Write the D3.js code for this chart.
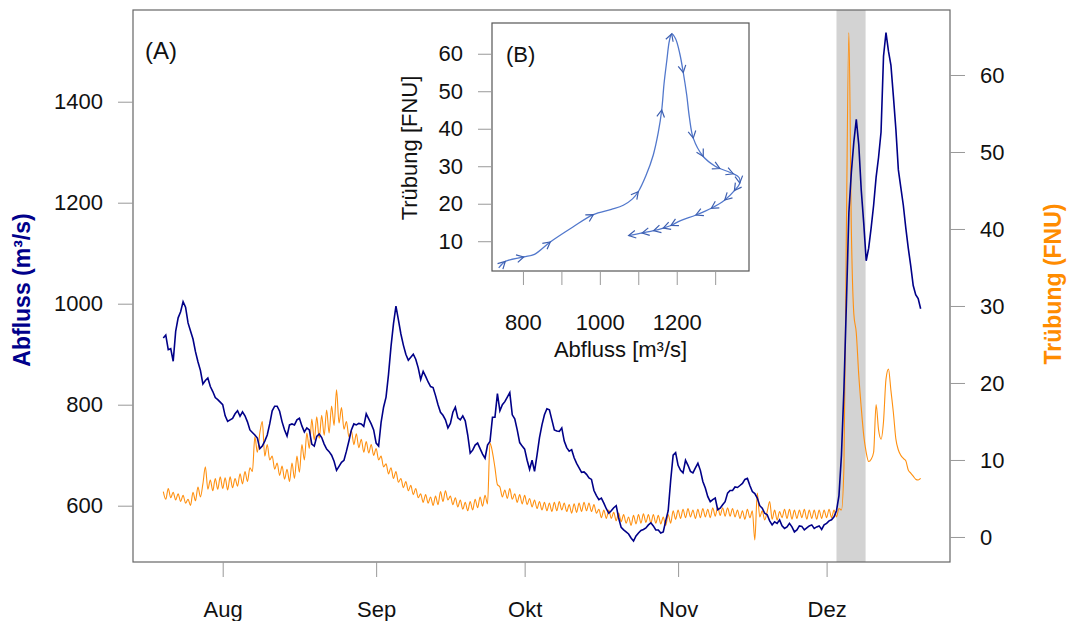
<!DOCTYPE html>
<html>
<head>
<meta charset="utf-8">
<script src="https://cdn.jsdelivr.net/npm/d3@7"></script>
<style>
  body { margin: 0; background: #fff; }
  text { font-family: "Liberation Sans", Arial, sans-serif; }
</style>
</head>
<body>
<svg id="chart" width="1068" height="621"></svg>
<script>
// Abfluss (m³/s), 12-Stunden-Werte ab 20. Juli
var startDate = new Date(2023, 6, 20);
var abfluss = [
  932, 938, 909, 911, 886, 945, 972, 984, 1004, 993, 962, 946, 930, 905, 885, 868, 841, 848, 853, 836,
  826, 814, 810, 805,
  800, 778, 767, 770, 773, 782, 788, 777, 786, 778, 766, 750, 745, 740, 734, 713, 718, 728, 740, 762,
  788, 797, 797, 787, 766, 750, 738, 760, 762, 760, 770, 773, 758, 746, 754, 750, 722, 718, 737, 742,
  735, 722, 712, 707, 700, 688, 670, 678, 686, 690, 708, 728, 750, 762, 760, 763, 762, 757, 782, 772,
  762, 750,
  724, 718, 765, 795, 815, 860, 915, 960, 995, 968, 940, 918, 900, 888, 894, 900, 890, 873, 850, 866,
  856, 845, 836, 834, 818, 800, 785, 779, 770, 754, 763, 785, 795, 774, 770, 778, 768, 740, 704, 710,
  720, 724, 713, 702, 694, 720, 727, 775, 775, 822, 788, 800, 806, 815, 824, 780, 772, 750, 725, 718,
  712, 690, 672, 690, 668, 700, 735, 760, 780, 792, 790, 770, 750, 748, 747, 754, 728, 715, 708, 711,
  695, 684, 675, 666, 667, 662, 655, 652, 630, 620, 612, 615, 605, 594, 585, 590, 596, 600, 575, 557,
  552, 548, 544, 536, 530, 540, 546, 551, 553, 556, 562, 566, 560, 552, 552, 546, 548, 570, 590, 650,
  700, 705,
  680, 670, 665, 690, 680, 668, 665, 675, 684, 670, 648, 635, 618, 608, 612, 615, 592, 595, 602, 608,
  625, 630, 630, 637, 636, 640, 644, 652, 654, 640, 628, 624, 615, 600, 595, 585, 582, 570, 562, 568,
  565, 572, 560, 555, 558, 565, 558, 548, 552, 560, 559, 552, 556, 560, 562, 555, 558, 560, 553, 562,
  565, 570, 572, 578, 590, 620, 700, 830, 1000, 1180, 1260, 1320, 1365, 1315, 1225, 1160, 1085, 1110,
  1150, 1195, 1250, 1290, 1340, 1490, 1537, 1500, 1472, 1410, 1345, 1265, 1230, 1195, 1150, 1110,
  1075, 1036, 1018, 1010, 990
];
// Trübung (FNU), 12-Stunden-Werte ab 20. Juli
var truebung = [
  5.9, 4.9, 6.3, 5.1, 5.8, 4.8, 5.6, 4.6, 5.4, 4.4, 4.9, 4.1, 5.8, 4.7, 6.5, 5.2, 6.9, 9.1, 6.2, 7.4,
  6.0, 7.6, 6.2, 7.8,
  6.3, 7.7, 6.1, 7.8, 6.4, 7.6, 6.6, 8.2, 6.9, 8.5, 7.2, 9.0, 8.5, 13.0, 11.0, 13.5, 15.0, 10.5,
  12.0, 10.0, 10.5, 8.8, 9.6, 8.0, 9.2, 7.5, 8.8, 7.2, 9.6, 7.6, 10.5, 8.4, 12.0, 10.0, 13.5, 11.5,
  15.3, 12.6, 15.6, 12.8, 15.8, 13.2, 16.5, 13.5, 17.0, 14.5, 19.1, 14.8, 16.8, 14.0, 15.0, 13.0,
  13.8, 12.0, 13.4, 11.6, 12.7, 11.0, 12.4, 10.9, 12.0, 10.6,
  11.5, 10.0, 10.5, 9.1, 9.5, 8.2, 9.0, 7.6, 8.5, 7.1, 7.6, 6.4, 7.2, 6.0, 6.7, 5.5, 6.3, 5.1,
  5.6, 4.5, 5.5, 4.4, 5.2, 4.1, 5.3, 4.2, 5.9, 4.6, 6.0, 4.8, 5.3, 4.2, 5.1, 3.9, 4.8, 3.6,
  4.5, 3.4, 4.6, 3.5, 4.9, 3.8, 5.2, 4.0, 5.4, 4.3, 12.2, 11.0, 9.0, 6.8, 6.5, 5.2, 6.1, 5.0,
  6.3, 4.9, 5.6, 4.5, 5.5, 4.3,
  5.4, 4.2, 5.0, 3.9, 4.8, 3.7, 4.6, 3.5, 4.5, 3.4, 4.4, 3.3, 4.5, 3.4, 4.6, 3.5, 4.4, 3.3,
  4.2, 3.1, 4.3, 3.2, 4.4, 3.3, 4.5, 3.4, 4.4, 3.3, 4.2, 3.1, 3.6, 2.5, 3.5, 2.4, 3.5, 2.4,
  3.2, 2.1, 3.1, 2.0, 2.9, 1.8, 2.6, 1.5, 2.8, 1.7, 2.9, 1.8, 3.0, 1.9, 2.9, 1.8, 2.9, 1.8,
  2.8, 1.7, 2.6, 1.5, 2.9, 1.8, 3.4, 2.3,
  3.5, 2.4, 3.6, 2.5, 3.7, 2.6, 3.5, 2.4, 3.6, 2.5, 3.7, 2.6, 3.6, 2.5, 3.8, 2.7, 3.9, 2.8,
  3.8, 2.7, 3.8, 2.7, 3.7, 2.6, 3.5, 2.4, 3.4, 2.3, 3.6, 2.5, 3.4, -0.4, 5.7, 2.6, 3.4, 2.2,
  3.3, 4.6, 2.3, 3.5, 2.2, 3.3, 2.5, 3.6, 2.4, 3.6, 2.3, 3.5, 2.4, 3.5, 2.5, 3.6, 2.3, 3.5,
  2.4, 3.5, 2.3, 3.5, 2.4, 3.5,
  2.5, 3.6, 2.5, 3.5, 2.6, 3.7, 3.5, 9.0, 40, 65.5, 40, 29, 26.5, 21, 16.8, 13.2, 11, 9.8,
  10.1, 11, 17.2, 13.9, 12.7, 15, 20.5, 21.8, 19, 16.1, 12.7, 11.3, 10.6, 10.2, 9.9, 8.7,
  8.3, 7.9, 7.5, 7.4, 7.6
];

var monthTicks = [new Date(2023, 7, 1), new Date(2023, 8, 1), new Date(2023, 9, 1),
                  new Date(2023, 10, 1), new Date(2023, 11, 1)];
var monthLabels = ["Aug", "Sep", "Okt", "Nov", "Dez"];
var abflussTicks = [600, 800, 1000, 1200, 1400];
var truebungTicks = [0, 10, 20, 30, 40, 50, 60];
var eventStart = new Date(2023, 11, 3, 0);
var eventEnd = new Date(2023, 11, 8, 21);

// Hysterese des Dezember-Ereignisses (Inset B)
var loopQ = [737, 754, 802, 830, 871, 930, 983, 1030, 1061, 1085, 1100, 1120, 1139, 1152, 1161,
             1167, 1174, 1181, 1187, 1197, 1208, 1217, 1226, 1233, 1243, 1269, 1300, 1312, 1347,
             1362, 1364, 1350, 1325, 1290, 1250, 1210, 1185, 1165, 1140, 1110, 1075];
var loopT = [2.9, 4.6, 5.8, 6.5, 9.8, 13.8, 17.1, 18.5, 19.6, 21.3, 23.2, 27.5, 33, 39, 45,
             52, 58, 63.5, 65.3, 64, 60, 55, 49, 43, 37.5, 32.6, 30, 29.4, 28,
             27, 25.5, 23.5, 21, 18.8, 17, 15.5, 14.2, 13.5, 12.8, 12.2, 11.5];
var loopArrows = [1, 2, 4, 6, 10, 14, 18, 21, 24, 25, 27, 28, 30, 31, 32, 33, 34, 36, 37, 38, 39, 40];
var insetQTicks = [800, 900, 1000, 1100, 1200, 1300];
var insetQLabels = [800, 1000, 1200];
var insetTTicks = [10, 20, 30, 40, 50, 60];

var svg = d3.select("#chart");
var plot = { left: 133, right: 950, top: 10, bottom: 562 };

var x = d3.scaleTime()
  .domain([new Date(2023, 6, 13, 21, 7), new Date(2023, 11, 25, 22, 20)])
  .range([plot.left, plot.right]);
var yQ = d3.scaleLinear().domain([488.5, 1581.6]).range([plot.bottom, plot.top]);
var yT = d3.scaleLinear().domain([-3.25, 68.44]).range([plot.bottom, plot.top]);

// grau hinterlegtes Ereignis
svg.append("rect")
  .attr("x", x(eventStart)).attr("y", plot.top)
  .attr("width", x(eventEnd) - x(eventStart)).attr("height", plot.bottom - plot.top)
  .style("fill", "#d3d3d3");

var qData = abfluss.map(function(v, i) { return { t: d3.timeHour.offset(startDate, i * 12), v: v }; });
var tData = truebung.map(function(v, i) { return { t: d3.timeHour.offset(startDate, i * 12), v: v }; });

svg.append("path")
  .datum(tData)
  .attr("d", d3.line().curve(d3.curveMonotoneX)
    .x(function(d) { return x(d.t); }).y(function(d) { return yT(d.v); }))
  .style("fill", "none").style("stroke", "#ff9010").style("stroke-width", 1.1);

svg.append("path")
  .datum(qData)
  .attr("d", d3.line().x(function(d) { return x(d.t); }).y(function(d) { return yQ(d.v); }))
  .style("fill", "none").style("stroke", "#000088").style("stroke-width", 1.6);

// Rahmen
svg.append("rect")
  .attr("x", plot.left).attr("y", plot.top)
  .attr("width", plot.right - plot.left).attr("height", plot.bottom - plot.top)
  .style("fill", "none").style("stroke", "#666").style("stroke-width", 1.2);

function styleAxis(g) {
  g.select(".domain").remove();
  g.selectAll(".tick line").style("stroke", "#999");
  g.selectAll(".tick text").style("font-size", "22px").style("fill", "#111")
    .style("font-family", "'Liberation Sans', Arial, sans-serif");
}

svg.append("g")
  .attr("transform", "translate(0," + plot.bottom + ")")
  .call(d3.axisBottom(x).tickValues(monthTicks).tickSize(15).tickPadding(24)
    .tickFormat(function(d, i) { return monthLabels[i]; }))
  .call(styleAxis);

svg.append("g")
  .attr("transform", "translate(" + plot.left + ",0)")
  .call(d3.axisLeft(yQ).tickValues(abflussTicks).tickSize(15).tickPadding(15)
    .tickFormat(d3.format("d")))
  .call(styleAxis);

svg.append("g")
  .attr("transform", "translate(" + plot.right + ",0)")
  .call(d3.axisRight(yT).tickValues(truebungTicks).tickSize(15).tickPadding(15)
    .tickFormat(d3.format("d")))
  .call(styleAxis);

svg.append("text")
  .attr("transform", "translate(30,290) rotate(-90)")
  .attr("text-anchor", "middle")
  .style("font-size", "23px").style("font-weight", "bold").style("fill", "#00008b")
  .text("Abfluss (m³/s)");

svg.append("text")
  .attr("transform", "translate(1061,284) rotate(-90)")
  .attr("text-anchor", "middle")
  .style("font-size", "23px").style("font-weight", "bold").style("fill", "#ff8c00")
  .text("Trübung (FNU)");

svg.append("text")
  .attr("x", 145).attr("y", 59)
  .style("font-size", "24px").style("fill", "#111")
  .text("(A)");

// Inset B
var inset = { left: 492, right: 749, top: 23, bottom: 271 };
var ix = d3.scaleLinear().domain([719.5, 1388]).range([inset.left, inset.right]);
var iy = d3.scaleLinear().domain([2.06, 68.2]).range([inset.bottom, inset.top]);

svg.append("rect")
  .attr("x", inset.left).attr("y", inset.top)
  .attr("width", inset.right - inset.left).attr("height", inset.bottom - inset.top)
  .style("fill", "#fff").style("stroke", "#555").style("stroke-width", 1.2);

var loopPts = loopQ.map(function(q, i) { return [ix(q), iy(loopT[i])]; });

svg.append("path")
  .datum(loopPts)
  .attr("d", d3.line().curve(d3.curveCatmullRom.alpha(0.5)))
  .style("fill", "none").style("stroke", "#5278cc").style("stroke-width", 1.3);

// Pfeilspitzen entlang der Schleife
loopArrows.forEach(function(i) {
  var p = loopPts[i], q = loopPts[i - 1];
  var a = Math.atan2(p[1] - q[1], p[0] - q[0]);
  var len = 8, spread = 0.5;
  var p1 = [p[0] - len * Math.cos(a - spread), p[1] - len * Math.sin(a - spread)];
  var p2 = [p[0] - len * Math.cos(a + spread), p[1] - len * Math.sin(a + spread)];
  svg.append("path")
    .attr("d", "M" + p1 + "L" + p + "L" + p2)
    .style("fill", "none").style("stroke", "#3d5fb0").style("stroke-width", 1.2);
});

svg.append("g")
  .attr("transform", "translate(0," + inset.bottom + ")")
  .call(d3.axisBottom(ix).tickValues(insetQTicks).tickSize(14).tickPadding(29)
    .tickFormat(function(d) { return insetQLabels.indexOf(d) >= 0 ? d : ""; }))
  .call(styleAxis);

svg.append("g")
  .attr("transform", "translate(" + inset.left + ",0)")
  .call(d3.axisLeft(iy).tickValues(insetTTicks).tickSize(14).tickPadding(15))
  .call(styleAxis);

svg.append("text")
  .attr("x", (inset.left + inset.right) / 2).attr("y", 357)
  .attr("text-anchor", "middle")
  .style("font-size", "22px").style("fill", "#111")
  .text("Abfluss [m³/s]");

svg.append("text")
  .attr("transform", "translate(417,148) rotate(-90)")
  .attr("text-anchor", "middle")
  .style("font-size", "22px").style("fill", "#111")
  .text("Trübung [FNU]");

svg.append("text")
  .attr("x", 506).attr("y", 62)
  .style("font-size", "22px").style("fill", "#111")
  .text("(B)");
</script>
</body>
</html>
